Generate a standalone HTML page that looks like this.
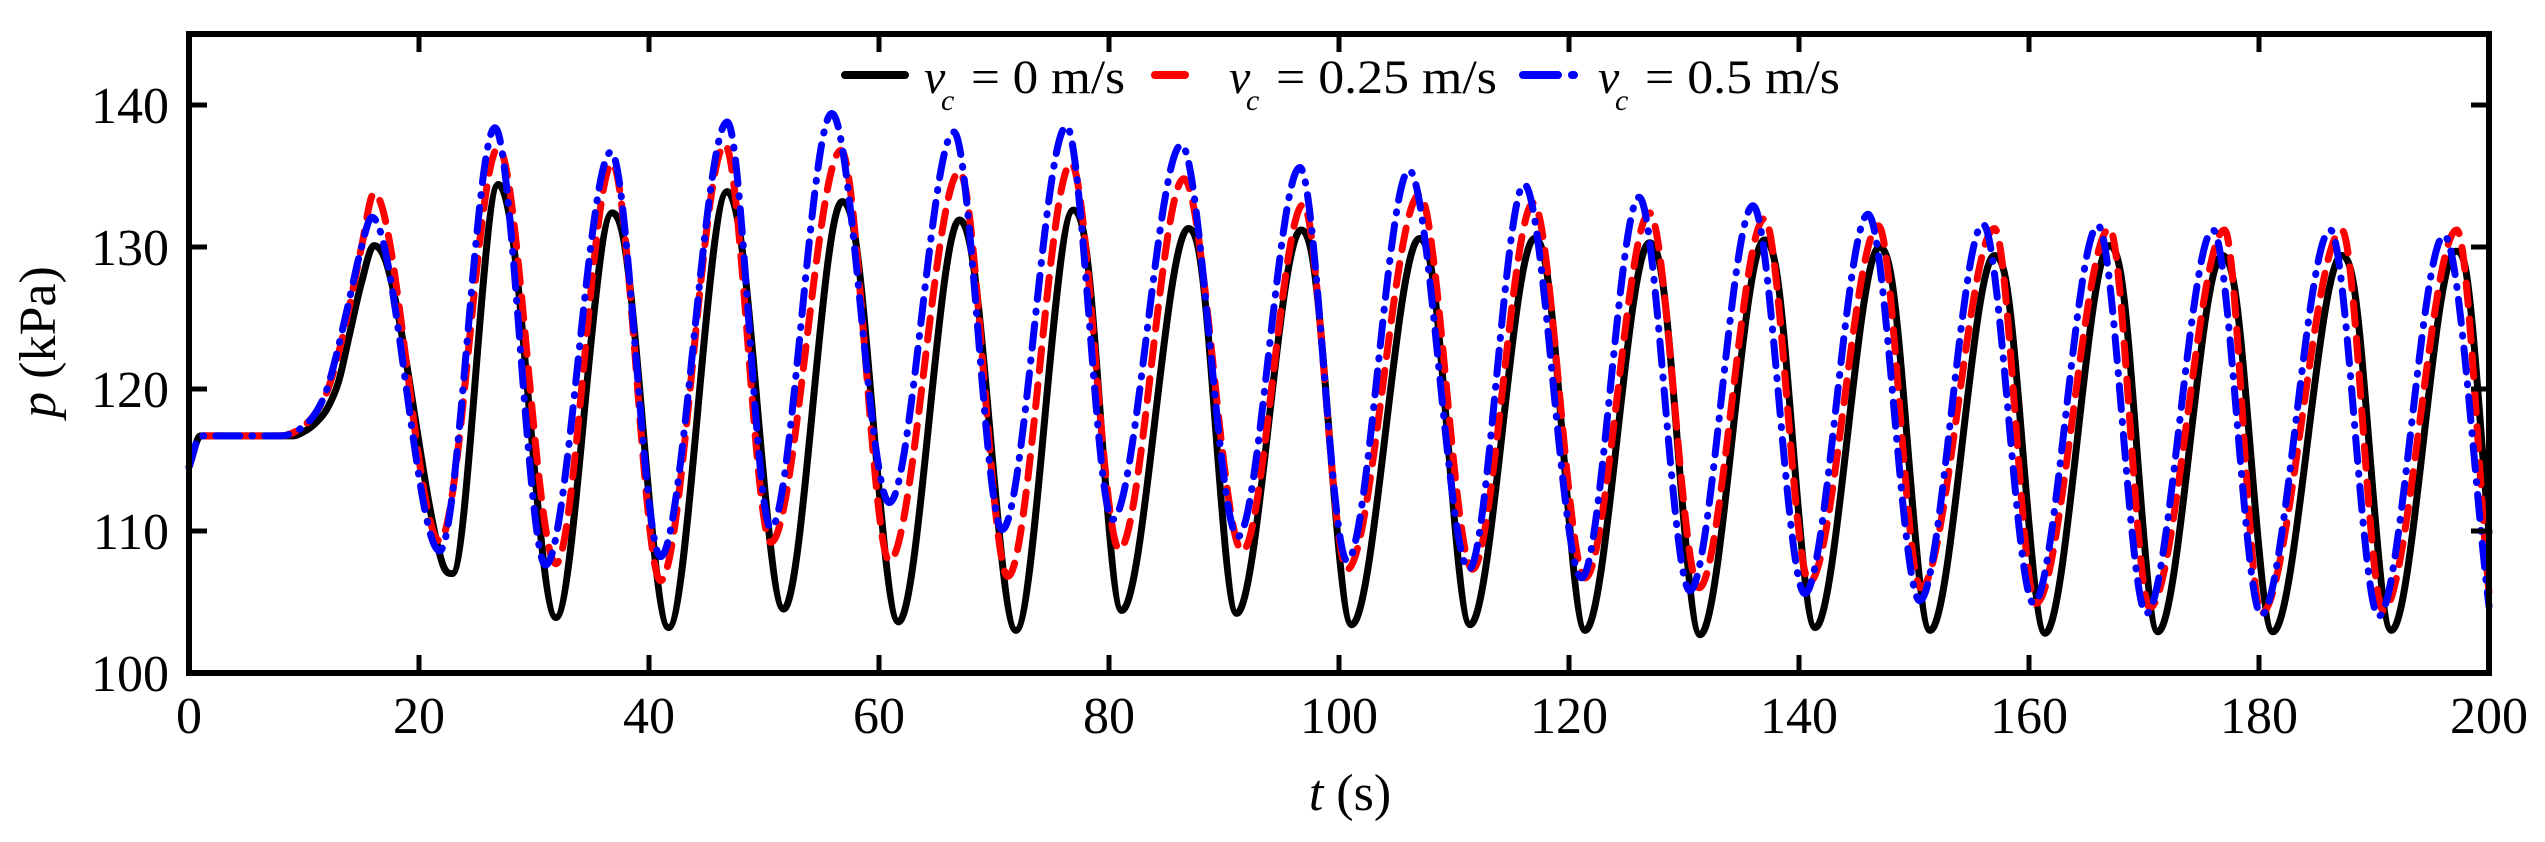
<!DOCTYPE html>
<html><head><meta charset="utf-8"><style>
html,body{margin:0;padding:0;background:#fff;}
svg, svg text{font-family:"Liberation Serif","Times New Roman",Times,serif;}
</style></head><body>
<svg id="chart" width="2545" height="837" viewBox="0 0 2545 837" font-family="Liberation Serif, Times New Roman, serif">
<g id="series"></g>
<g id="axes"></g>
<g id="legend">
  <line x1="845" y1="75" x2="905" y2="75" stroke="#000" stroke-width="8" stroke-linecap="round"/>
  <text x="924" y="93" font-size="48" font-style="italic">v</text>
  <text x="941" y="110" font-size="30" font-style="italic">c</text>
  <text x="971" y="93" font-size="48" textLength="154" lengthAdjust="spacingAndGlyphs">= 0 m/s</text>
  <line x1="1155" y1="75" x2="1185" y2="75" stroke="#f00" stroke-width="8" stroke-linecap="round"/>
  <text x="1229" y="93" font-size="48" font-style="italic">v</text>
  <text x="1246" y="110" font-size="30" font-style="italic">c</text>
  <text x="1276" y="93" font-size="48" textLength="221" lengthAdjust="spacingAndGlyphs">= 0.25 m/s</text>
  <line x1="1523" y1="75" x2="1558" y2="75" stroke="#00f" stroke-width="8" stroke-linecap="round"/>
  <line x1="1572" y1="75" x2="1574" y2="75" stroke="#00f" stroke-width="8" stroke-linecap="round"/>
  <text x="1598" y="93" font-size="48" font-style="italic">v</text>
  <text x="1615" y="110" font-size="30" font-style="italic">c</text>
  <text x="1645" y="93" font-size="48" textLength="195" lengthAdjust="spacingAndGlyphs">= 0.5 m/s</text>
</g>
<text x="55" y="342" font-size="52" text-anchor="middle" transform="rotate(-90 55 342)"><tspan font-style="italic">p</tspan> (kPa)</text>
<text x="1350" y="810" font-size="52" text-anchor="middle"><tspan font-style="italic">t</tspan> (s)</text>
</svg>
<script>
// ---- data ----
const xTicks = [0,20,40,60,80,100,120,140,160,180,200];
const yTicks = [100,110,120,130,140];
const blackT = [0,1,9,10,11,12,13,14,15,16.1,17.3,22,22.9,26.9,27.9,31.9,36.8,37.8,41.7,46.8,47.8,51.7,56.8,57.8,61.7,67.0,68,71.9,76.9,77.9,81.1,86.9,87.9,91.1,96.7,97.7,101.1,107.0,108,111.4,117.0,118,121.4,127.0,128,131.4,137.0,138,141.4,147.0,148,151.4,157.0,158,161.4,167.0,168,171.2,176.8,177.8,181.2,187.2,188.2,191.5,197.1,198.1,200];
const blackP = [114.5,116.7,116.7,117.0,117.6,118.6,120.5,124.0,127.5,130.1,128.5,107.8,107.0,134.4,132.0,103.9,132.4,130.5,103.2,133.9,131.5,104.5,133.2,131.3,103.6,131.9,129.8,103.0,132.6,130.5,104.4,131.3,129.3,104.2,131.2,129.2,103.4,130.6,128.6,103.4,130.6,128.6,103.0,130.3,128.3,102.7,130.5,128.5,103.2,130.0,128.0,103.0,129.4,127.6,102.8,130.1,128.0,102.9,129.4,127.5,102.9,129.4,127.5,103.0,129.7,127.8,109.8];
const redT = [0,1,8,9,10,11,12,13,14,15,16.1,21.8,26.9,31.9,36.8,41.0,46.6,50.6,56.7,60.9,67.0,71.2,76.7,80.9,86.5,91.6,96.9,100.7,107.0,111.6,116.9,121.4,127.0,131.3,137.0,140.9,146.9,150.6,157.0,160.6,167.0,170.5,177.0,180.2,187.2,190.8,197.2,200];
const redP = [114.5,116.7,116.7,116.9,117.4,118.3,119.8,122.5,126.0,130.0,133.8,109.3,137.0,107.7,135.9,106.5,137.2,109.2,136.8,107.9,135.3,106.8,135.9,108.7,134.8,108.6,133.0,107.3,133.7,107.3,133.1,106.7,132.4,106.0,132.0,106.4,131.5,106.0,131.3,104.9,131.3,104.6,131.2,104.2,131.2,104.4,131.2,105.6];
const blueT = [0,1,8,9,10,11,12,13,14,15,15.9,21.8,26.6,31.0,36.7,41.0,46.8,50.6,55.9,60.9,66.5,70.7,76.3,80.3,86.3,91.2,96.6,100.7,106.1,111.3,116.1,121.1,126.1,130.5,136.0,140.5,146.0,150.5,156.0,160.4,166.0,170.2,176.0,180.2,186.2,190.4,196.1,200];
const blueP = [114.5,116.7,116.7,116.9,117.4,118.3,120.0,123.0,126.5,130.0,132.1,108.6,138.4,107.6,136.7,108.2,138.8,110.2,139.4,112.0,138.1,110.1,138.5,110.8,137.2,109.6,135.6,107.9,135.4,107.3,134.4,106.7,133.5,105.8,132.9,105.6,132.3,105.1,131.6,104.9,131.5,104.2,131.2,104.1,131.2,104.0,130.8,104.7];

// ---- axes functions ----
const X0=189, X1=2489, Y0=673, Y1=34;
function xs(t){return X0+(t-0)/(200-0)*(X1-X0);}
function ys(p){return Y0-(p-100)/(145-100)*(Y0-Y1);}
const NS='http://www.w3.org/2000/svg';

function monotonePath(T,P){
  const n=T.length, xsA=T.map(xs), ysA=P.map(ys);
  const d=[],m=new Array(n);
  for(let i=0;i<n-1;i++) d.push((ysA[i+1]-ysA[i])/(xsA[i+1]-xsA[i]));
  m[0]=d[0]; m[n-1]=d[n-2];
  for(let i=1;i<n-1;i++){ m[i]=(d[i-1]*d[i]<=0)?0:(d[i-1]+d[i])/2; }
  for(let i=0;i<n-1;i++){
    if(d[i]===0){m[i]=0;m[i+1]=0;continue;}
    const a=m[i]/d[i], b=m[i+1]/d[i], s=a*a+b*b;
    if(s>9){const k=3/Math.sqrt(s);m[i]=k*a*d[i];m[i+1]=k*b*d[i];}
  }
  let s='M'+xsA[0].toFixed(1)+','+ysA[0].toFixed(1);
  for(let i=0;i<n-1;i++){
    const h=(xsA[i+1]-xsA[i])/3;
    s+='C'+(xsA[i]+h).toFixed(1)+','+(ysA[i]+m[i]*h).toFixed(1)+' '+(xsA[i+1]-h).toFixed(1)+','+(ysA[i+1]-m[i+1]*h).toFixed(1)+' '+xsA[i+1].toFixed(1)+','+ysA[i+1].toFixed(1);
  }
  return s;
}
const sg=document.getElementById('series');
function addSeries(T,P,color,dash,name){
  const p=document.createElementNS(NS,'path');
  p.setAttribute('d',monotonePath(T,P));
  p.setAttribute('fill','none');
  p.setAttribute('stroke',color);
  p.setAttribute('stroke-width','7');
  p.setAttribute('stroke-linecap',dash?'round':'butt');
  p.setAttribute('stroke-linejoin','round');
  if(dash)p.setAttribute('stroke-dasharray',dash);
  
  
  sg.appendChild(p);
}
addSeries(blackT,blackP,'#000',null,'series-vc-0');
addSeries(redT,redP,'#f00','22 14','series-vc-0.25');
addSeries(blueT,blueP,'#00f','24 12 1 12','series-vc-0.5');

const ag=document.getElementById('axes');
const frame=document.createElementNS(NS,'rect');
frame.setAttribute('x',X0);frame.setAttribute('y',Y1);
frame.setAttribute('width',X1-X0);frame.setAttribute('height',Y0-Y1);
frame.setAttribute('fill','none');frame.setAttribute('stroke','#000');frame.setAttribute('stroke-width','6');


ag.appendChild(frame);
function line(x1,y1,x2,y2,name){
  const l=document.createElementNS(NS,'line');
  l.setAttribute('x1',x1);l.setAttribute('y1',y1);l.setAttribute('x2',x2);l.setAttribute('y2',y2);
  l.setAttribute('stroke','#000');l.setAttribute('stroke-width','5');
  
  
  ag.appendChild(l);
}
function label(x,y,txt,anchor,name){
  const t=document.createElementNS(NS,'text');
  t.setAttribute('x',x);t.setAttribute('y',y);t.setAttribute('font-size','52');
  t.setAttribute('font-family','Liberation Serif, Times New Roman, serif');
  t.setAttribute('text-anchor',anchor);t.textContent=txt;
  
  
  ag.appendChild(t);
}
xTicks.forEach(v=>{
  const x=xs(v);
  if(v>0&&v<200){line(x,Y0,x,Y0-18,'x-tick');line(x,Y1,x,Y1+18,'x-tick-top');}
  label(x,733,String(v),'middle','x-tick-label');
});
yTicks.forEach(v=>{
  const y=ys(v);
  if(v>100){line(X0,y,X0+18,y,'y-tick');line(X1,y,X1-18,y,'y-tick-right');}
  label(169,y+18,String(v),'end','y-tick-label');
});
</script>
</body></html>
